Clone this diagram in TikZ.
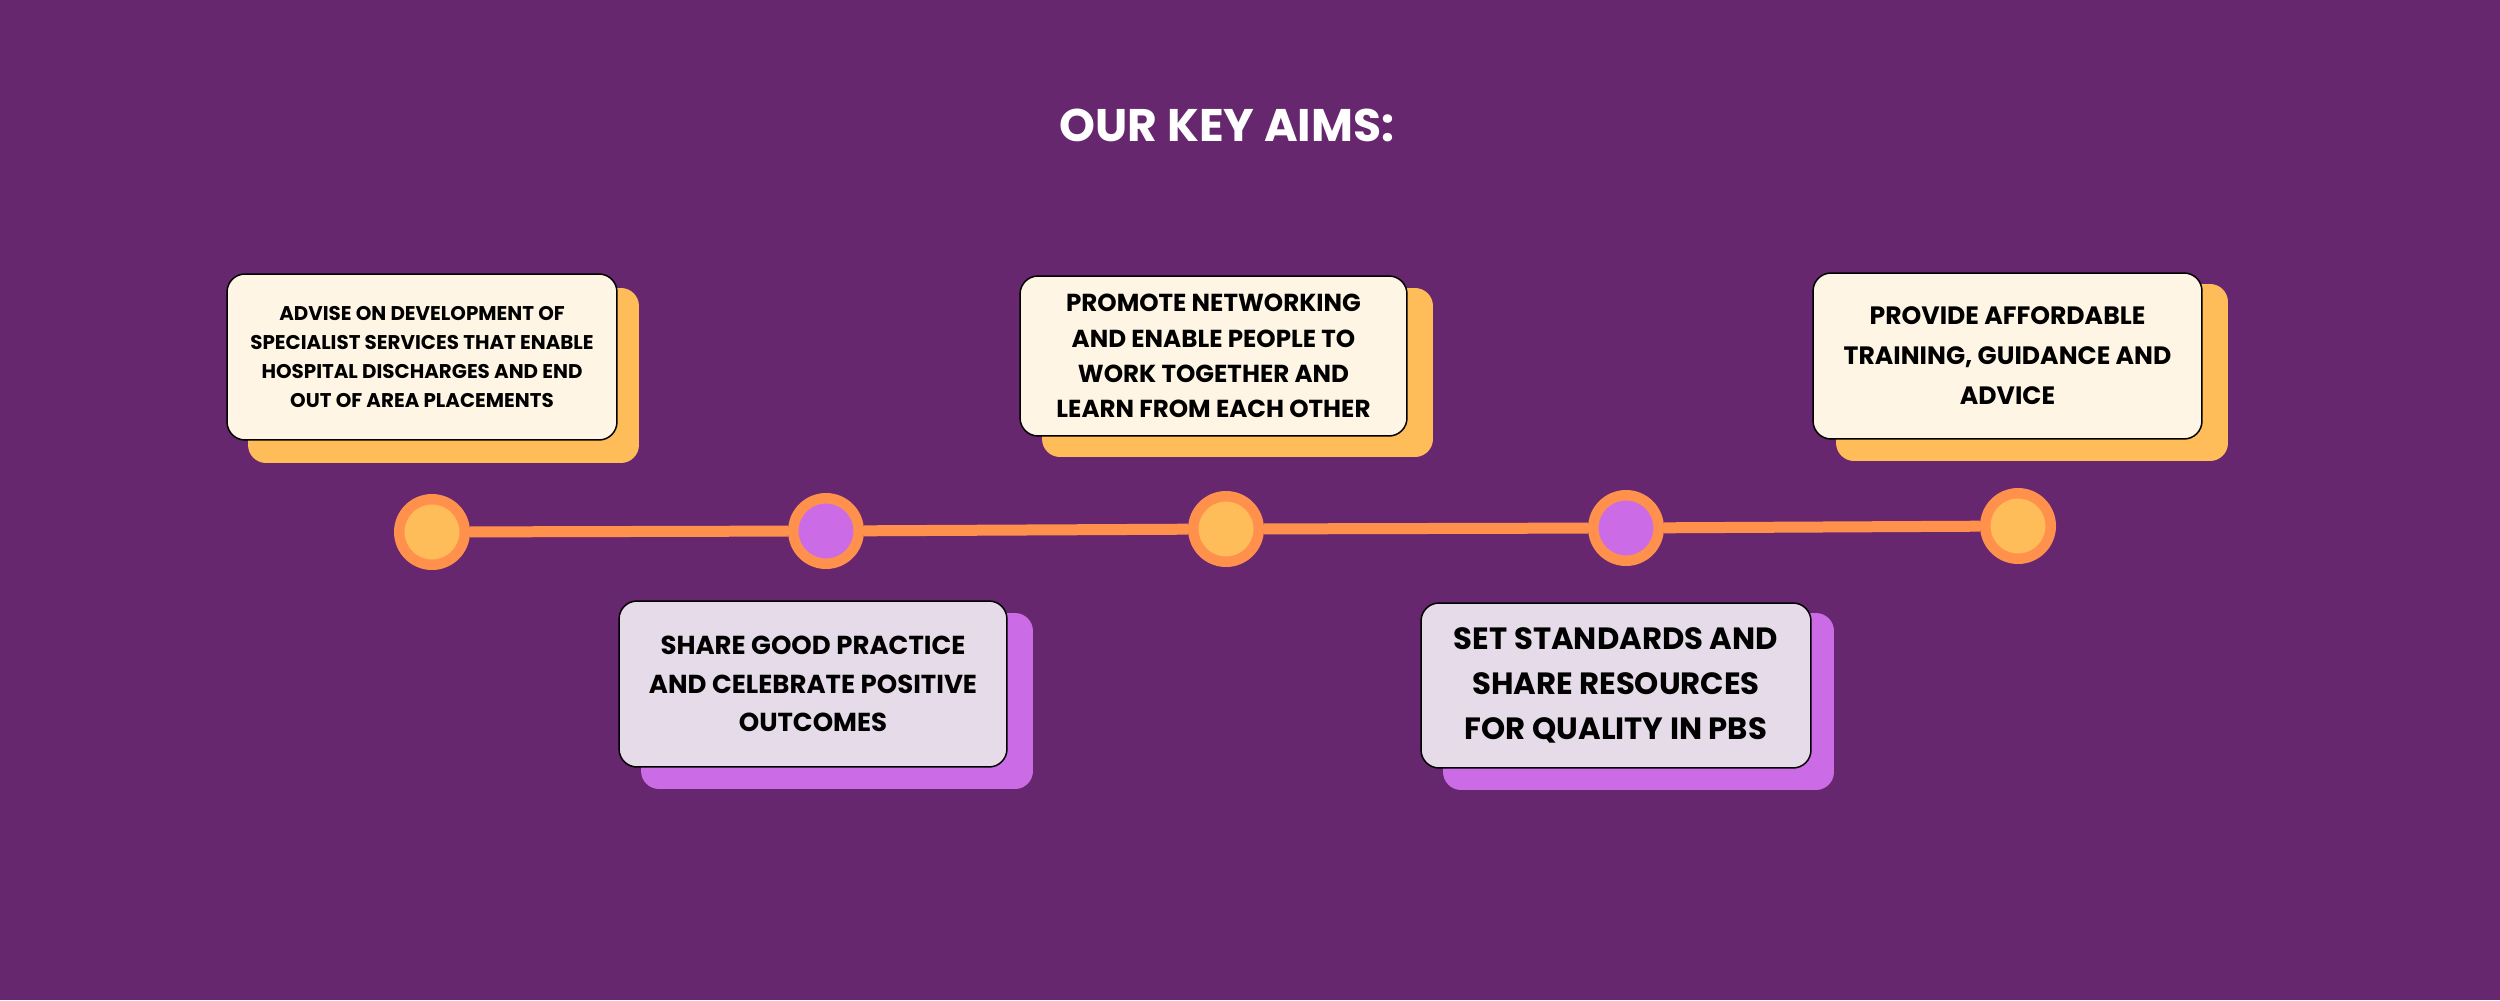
\documentclass[tikz,border=0pt]{standalone}
\usepackage{fontspec}
\setmainfont{Poppins}
\definecolor{aimsbg}{HTML}{67276F}
\definecolor{aimorange}{HTML}{FF914D}
\definecolor{aimyellow}{HTML}{FFBD59}
\definecolor{aimviolet}{HTML}{CB6CE6}
\definecolor{aimcream}{HTML}{FFF5E4}
\definecolor{aimlilac}{HTML}{E6DBE8}

\begin{document}
\begin{tikzpicture}[
    x=0.02cm,
    y=-0.02cm,
    aim/.style={
      draw=black,
      line width=0.85pt,
      rounded corners=0.36cm,
      align=center,
      inner sep=0pt
    },
    cream/.style={aim, fill=aimcream},
    lilac/.style={aim, fill=aimlilac},
    shade/.style={rounded corners=0.36cm, inner sep=0pt},
    dot/.style={
      circle,
      draw=aimorange,
      line width=0.21cm,
      minimum size=1.31cm,
      inner sep=0pt
    }
  ]
    \fill[aimsbg] (0, 0) rectangle (2500, 1000);

    \node[text=white, font=\bfseries\fontsize{26}{30}\selectfont] (title) at (1227, 125) {OUR KEY AIMS:};

    \node[shade, fill=aimyellow, minimum width=7.82cm, minimum height=3.5cm] (shade1) at (443.5, 375.5) {};
    \node[shade, fill=aimviolet, minimum width=7.84cm, minimum height=3.52cm] (shade2) at (837, 701) {};
    \node[shade, fill=aimyellow, minimum width=7.82cm, minimum height=3.38cm] (shade3) at (1237.5, 372.5) {};
    \node[shade, fill=aimviolet, minimum width=7.82cm, minimum height=3.54cm] (shade4) at (1638.5, 701.5) {};
    \node[shade, fill=aimyellow, minimum width=7.84cm, minimum height=3.54cm] (shade5) at (2032, 372.5) {};

    \node[cream, minimum width=7.8cm, minimum height=3.32cm, font=\bfseries\fontsize{11.3}{16.5}\selectfont] (aim1) at (422, 357)
      {ADVISE ON DEVELOPMENT OF\\SPECIALIST SERVICES THAT ENABLE\\HOSPITAL DISCHARGES AND END\\OUT OF AREA PLACEMENTS};
    \node[lilac, minimum width=7.76cm, minimum height=3.32cm, font=\bfseries\fontsize{14.8}{22}\selectfont] (aim2) at (813, 684)
      {SHARE GOOD PRACTICE\\AND CELEBRATE POSITIVE\\OUTCOMES};
    \node[cream, minimum width=7.74cm, minimum height=3.2cm, font=\bfseries\fontsize{14}{20}\selectfont] (aim3) at (1213.5, 356)
      {PROMOTE NETWORKING\\AND ENABLE PEOPLE TO\\WORK TOGETHER AND\\LEARN FROM EACH OTHER};
    \node[lilac, minimum width=7.8cm, minimum height=3.3cm, font=\bfseries\fontsize{17.5}{25.6}\selectfont] (aim4) at (1616, 685.5)
      {SET STANDARDS AND\\SHARE RESOURCES\\FOR QUALITY IN PBS};
    \node[cream, minimum width=7.78cm, minimum height=3.32cm, font=\bfseries\fontsize{14.3}{22.8}\selectfont] (aim5) at (2007.5, 356)
      {PROVIDE AFFORDABLE\\TRAINING, GUIDANCE AND\\ADVICE};

    \node[dot, fill=aimyellow] (dot1) at (432, 532) {};
    \node[dot, fill=aimviolet] (dot2) at (826, 531) {};
    \node[dot, fill=aimyellow] (dot3) at (1226, 529) {};
    \node[dot, fill=aimviolet] (dot4) at (1626, 528) {};
    \node[dot, fill=aimyellow] (dot5) at (2018, 526) {};

    \draw[-, aimorange, line width=0.22cm] (dot1) to (dot2);
    \draw[-, aimorange, line width=0.22cm] (dot2) to (dot3);
    \draw[-, aimorange, line width=0.22cm] (dot3) to (dot4);
    \draw[-, aimorange, line width=0.22cm] (dot4) to (dot5);
  \end{tikzpicture}
\end{document}
